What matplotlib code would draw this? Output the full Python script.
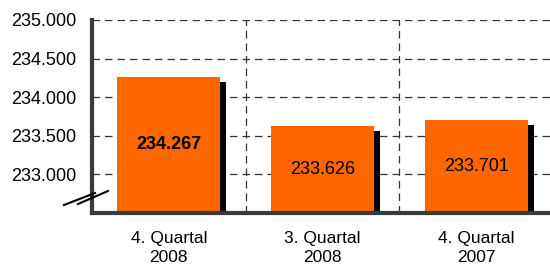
import matplotlib
matplotlib.use('Agg')
import matplotlib.pyplot as plt
import matplotlib.transforms as mtransforms
from matplotlib.lines import Line2D
from matplotlib.ticker import FuncFormatter

plt.rcParams['font.family'] = ['Liberation Sans', 'DejaVu Sans']

categories = ['4. Quartal\n2008', '3. Quartal\n2008', '4. Quartal\n2007']
values = [234.267, 233.626, 233.701]
value_labels = ['234.267', '233.626', '233.701']
bold_flags = [True, False, False]
y_ticks = [233.0, 233.5, 234.0, 234.5, 235.0]
y_min, y_max = 232.5, 235.0

orange = '#FF6600'
axis_col = '#3a3a3a'

fig = plt.figure(figsize=(5.5, 2.7), dpi=100)
ax = fig.add_axes([92 / 550, 57 / 270, 461 / 550, 193 / 270])

x = list(range(len(values)))
heights = [v - y_min for v in values]

# shadow bars, shifted a few pixels right and down
shift = mtransforms.ScaledTranslation(6 / 100, -5 / 100, fig.dpi_scale_trans)
ax.bar(x, heights, bottom=y_min, width=0.67, color='black',
       transform=ax.transData + shift, zorder=2)
ax.bar(x, heights, bottom=y_min, width=0.67, color=orange, zorder=3)

for xi, v, lab, b in zip(x, values, value_labels, bold_flags):
    ax.text(xi, (y_min + v) / 2, lab, ha='center', va='center', fontsize=13,
            fontweight='bold' if b else 'normal', color='black', zorder=4)

ax.set_xlim(-0.5, 2.5)
ax.set_ylim(y_min, y_max)
ax.set_yticks(y_ticks)
ax.yaxis.set_major_formatter(FuncFormatter(lambda v, p: f'{v:.3f}'))
ax.set_xticks(x)
ax.set_xticklabels(categories, fontsize=12.5, linespacing=1.35)
ax.set_xticks([0.5, 1.5], minor=True)

ax.tick_params(axis='y', length=0, pad=11, labelsize=13, colors='black')
ax.tick_params(axis='x', which='both', length=0, pad=13, colors='black')

ax.set_axisbelow(True)
ax.grid(axis='y', which='major', linestyle=(0, (6, 4)), color='#333333', linewidth=0.9)
ax.grid(axis='x', which='minor', linestyle=(0, (6, 4)), color='#333333', linewidth=0.9)
ax.grid(axis='x', which='major', visible=False)

for s in ['top', 'right']:
    ax.spines[s].set_visible(False)
for s in ['left', 'bottom']:
    ax.spines[s].set_color(axis_col)
    ax.spines[s].set_linewidth(3)
    ax.spines[s].set_zorder(5)

# axis break marks on the value axis
for (x0, y0), (x1, y1) in [((64, 205), (95, 193)), ((78, 204), (108, 191))]:
    fig.add_artist(Line2D([x0 / 550, x1 / 550], [1 - y0 / 270, 1 - y1 / 270],
                          transform=fig.transFigure, color='black', linewidth=1.5, zorder=6))

fig.savefig('out.png', dpi=100)
